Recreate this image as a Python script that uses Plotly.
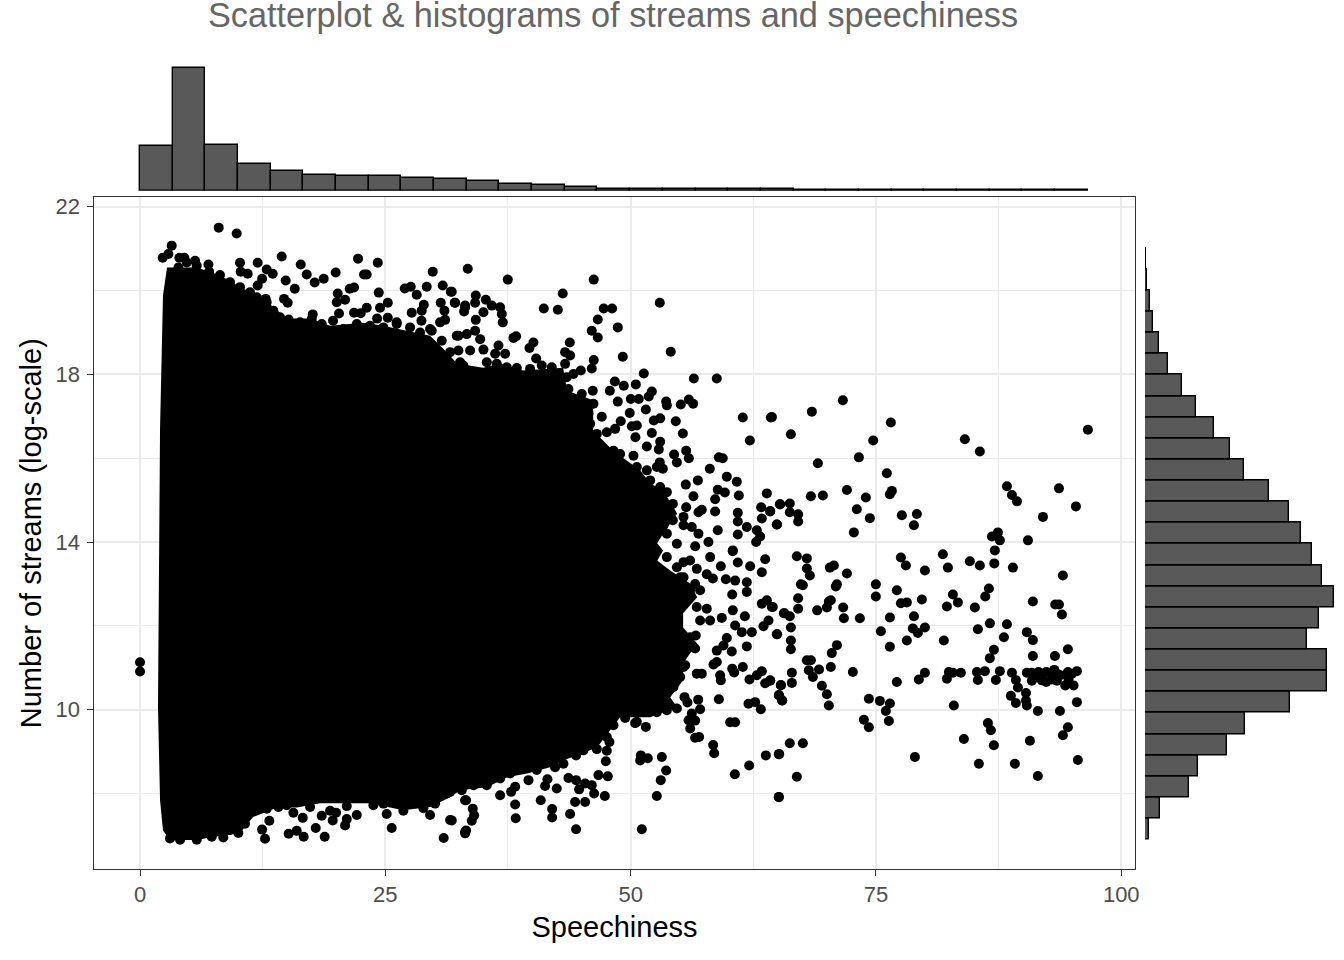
"""Scatterplot with marginal histograms of streams and speechiness."""

import numpy as np
import plotly.graph_objects as go

# Top histogram: speechiness, bar heights
speech_bin_start = 0.0
speech_bin_width = 3.33
speech_counts = [45, 123, 45.7, 27, 20, 16, 15, 15, 13, 12, 10, 7, 6, 4, 2,
                 1.6, 1.2, 1.2, 1.2, 1.2, 1, 1, 1, 0.4, 0.4, 0.4, 1, 1, 1]

# Right histogram: log streams, from the lowest bin up
stream_bin_start = 6.90
stream_bin_width = 0.504
stream_counts = [4, 14.7, 43.7, 52.7, 81.7, 100, 144.7, 182, 182, 162, 174,
                 189.3, 177, 167, 156, 144, 124, 99, 85, 69, 51, 37, 23, 14,
                 8, 5, 2, 0.8, 0.4]

# Outline of the solid black mass of overplotted points
mass_speech = [2.75, 5.81, 8.16, 10.5, 12.54, 14.98, 17.33, 19.37, 22.73, 24.77,
               26.2, 29.56, 31.29, 32.31, 34.96, 36.7, 39.04, 43.12, 43.53, 46.18,
               46.18, 48.22, 50.97, 51.99, 53.31, 54.74, 53.31, 52.7, 53.31, 52.7,
               54.03, 56.07, 56.78, 55.35, 55.35, 56.78, 55.35, 55.35, 54.03, 54.74,
               51.99, 48.93, 47.91, 46.58, 43.12, 41.79, 39.45, 37.41, 35.37, 32.62,
               31.6, 29.56, 26.81, 23.45, 21.1, 18.35, 16.0, 13.97, 11.52, 10.19,
               6.83, 5.81, 3.06, 2.34, 2.04, 1.83, 2.04, 2.24, 2.34, 2.75]
mass_streams = [20.55, 20.55, 20.36, 20.05, 19.81, 19.33, 19.33, 19.16, 19.23, 19.16,
                19.09, 18.92, 18.52, 18.26, 18.16, 18.26, 18.09, 18.16, 17.61, 17.38,
                16.66, 16.18, 15.71, 15.4, 15.23, 14.68, 14.2, 13.97, 13.8, 13.56,
                13.32, 13.01, 12.68, 12.3, 11.96, 11.58, 11.11, 10.7, 10.3, 10.06,
                9.82, 9.82, 9.51, 9.1, 8.79, 8.63, 8.48, 8.39, 8.15, 8.08,
                7.91, 7.68, 7.6, 7.77, 7.77, 7.77, 7.67, 7.67, 7.44, 7.06,
                6.94, 6.89, 6.89, 7.12, 7.84, 10.06, 16.71, 18.76, 19.88, 20.55]

# Separate points, as (speechiness, log streams)
points_top_left = [
    (8.02, 21.5), (9.85, 21.36), (3.23, 21.07), (2.89, 20.87), (2.31, 20.78), (4.01, 20.78),
    (4.52, 20.78), (5.61, 20.71), (6.97, 20.62), (7.04, 20.45), (10.19, 20.66), (11.99, 20.66),
    (14.44, 20.81), (16.38, 20.62), (22.22, 20.76), (24.23, 20.66), (29.83, 20.45), (12.91, 20.5),
    (13.52, 20.4), (10.26, 20.45), (10.97, 20.4), (12.44, 20.28), (11.99, 20.12), (16.99, 20.38),
    (14.85, 20.24), (15.77, 20.04), (17.8, 20.19), (18.72, 20.28), (19.94, 20.43), (22.83, 20.38),
    (23.1, 20.38), (21.37, 20.04), (21.81, 20.07), (20.15, 19.93), (24.33, 19.95), (26.98, 20.05),
    (27.59, 20.09), (28.2, 19.9), (29.22, 20.09), (30.85, 20.12), (31.67, 19.97), (32.11, 19.71),
    (33.13, 19.6), (30.65, 19.71), (28.92, 19.66), (28.71, 19.52), (27.69, 19.47), (31.02, 19.52),
    (28.68, 19.28), (30.58, 19.24), (31.09, 19.3), (25.25, 19.71), (24.46, 19.59), (23.1, 19.59),
    (21.81, 19.47), (22.49, 19.46), (20.9, 19.78), (20.05, 19.72), (20.28, 19.45), (19.67, 19.28),
    (24.16, 19.33), (25.25, 19.35), (26.16, 19.24), (29.56, 19.08), (14.68, 19.8), (15.05, 19.71),
    (17.6, 19.43), (15.15, 19.31), (12.81, 19.8), (12.74, 19.35),
]
points_top_mid = [
    (33.4, 20.52), (37.48, 20.26), (46.24, 20.26), (43.08, 19.93), (52.97, 19.71), (41.15, 19.57),
    (42.58, 19.54), (47.26, 19.57), (48.11, 19.57), (46.65, 19.31), (46.04, 19.04), (46.65, 18.88),
    (48.69, 19.12), (49.2, 18.42), (54.09, 18.54), (51.34, 18.02), (56.44, 17.9), (58.78, 17.9),
    (43.8, 18.76), (46.24, 18.34), (46.04, 18.14), (44.92, 18.09), (48.39, 17.83), (49.3, 17.73),
    (50.53, 17.76), (52.16, 17.59), (51.85, 17.47), (46.14, 17.61), (47.88, 17.61), (48.69, 17.35),
    (50.02, 17.41), (50.83, 17.41), (53.62, 17.35), (53.69, 17.26), (55.11, 17.28), (55.93, 17.4),
    (56.37, 17.3), (51.55, 17.16), (49.91, 17.08), (47.06, 16.99), (61.43, 16.97), (64.29, 16.97),
    (62.15, 16.42), (48.99, 16.88), (53.01, 16.95), (52.36, 16.9), (54.6, 16.88), (50.12, 16.76),
    (50.63, 16.78), (52.16, 16.6), (55.32, 16.59), (50.49, 16.5), (53.01, 16.39), (51.65, 16.28),
    (52.87, 16.21), (55.66, 16.18), (54.43, 16.09), (58.99, 16.02), (59.39, 16.0), (54.71, 15.9),
    (55.93, 16.0), (58.07, 15.75), (52.97, 15.9), (53.28, 15.75), (56.85, 15.47), (59.8, 15.56),
    (60.82, 15.44), (55.62, 15.37), (58.88, 15.25), (59.6, 15.18), (61.03, 15.11), (63.88, 15.16),
    (58.61, 15.02), (56.4, 15.09), (63.3, 14.83), (64.22, 14.73), (65.24, 14.9), (58.61, 14.73),
    (60.92, 14.7), (60.92, 14.49), (63.37, 14.56), (64.9, 14.42), (58.88, 14.28), (61.84, 14.36),
    (60.92, 14.18), (62.86, 14.28), (63.2, 14.13), (62.79, 14.0), (60.41, 13.8), (56.91, 14.71),
    (57.25, 14.77), (55.39, 14.6), (55.66, 14.83), (54.3, 14.91), (54.3, 14.52), (55.39, 14.4),
    (56.23, 14.36), (56.91, 14.2), (57.93, 14.0), (54.71, 13.96), (56.58, 13.9), (53.69, 14.2),
    (31.77, 19.97), (32.08, 19.71), (34.22, 19.88), (34.15, 19.71), (35.24, 19.78), (33.13, 19.64),
    (33.03, 19.5), (35.85, 19.64), (36.7, 19.6), (35.0, 19.48), (36.87, 19.44), (34.22, 19.3),
    (36.97, 19.24), (32.28, 18.92), (34.15, 19.04), (33.3, 18.96), (34.66, 18.84), (38.06, 18.87),
    (38.33, 18.91), (40.09, 18.76), (39.69, 18.63), (36.53, 18.69), (35.0, 18.59), (32.45, 18.57),
    (33.64, 18.57), (36.19, 18.49), (37.21, 18.49), (40.37, 18.38), (43.32, 18.53), (43.83, 18.45),
    (43.32, 18.25), (35.34, 18.29), (32.62, 18.29), (38.4, 18.15), (39.75, 18.13), (40.94, 18.21),
    (41.96, 18.17),
]
points_right_upper = [
    (64.4, 16.98), (68.47, 17.11), (71.63, 17.38), (66.33, 16.57), (76.52, 16.85), (74.72, 16.42),
    (73.26, 16.02), (69.08, 15.88), (84.06, 16.45), (85.59, 16.16), (96.6, 16.68), (76.11, 15.64),
    (88.35, 15.33), (88.86, 15.12), (89.37, 14.97), (93.65, 15.28), (95.38, 14.85), (92.02, 14.6),
    (72.04, 15.24), (68.37, 15.09), (69.59, 15.11), (73.97, 15.06), (76.62, 15.22), (76.42, 15.14),
    (73.05, 14.78), (74.38, 14.57), (77.64, 14.64), (79.17, 14.67), (78.87, 14.4), (72.75, 14.23),
    (65.21, 14.9), (66.22, 14.92), (66.22, 14.71), (67.07, 14.66), (67.07, 14.49), (64.9, 14.42),
    (64.22, 14.74), (87.43, 14.23), (86.82, 14.13), (87.63, 14.04), (90.49, 14.04), (87.12, 13.8),
    (87.06, 13.49), (88.96, 13.39), (94.05, 13.2), (81.82, 13.71), (82.33, 13.39), (84.57, 13.54),
    (85.59, 13.44), (77.54, 13.63), (78.05, 13.44), (79.99, 13.32), (66.94, 13.66), (67.96, 13.61),
    (67.96, 13.37), (68.26, 13.2), (70.3, 13.39), (70.71, 13.44), (72.04, 13.25), (67.35, 12.99),
    (67.55, 12.97), (71.02, 12.99), (70.91, 12.94), (74.99, 12.99), (74.99, 12.7), (77.13, 12.85),
    (67.07, 12.66), (70.2, 12.58), (70.4, 12.61), (70.0, 12.44), (71.66, 12.44), (69.01, 12.37),
    (67.07, 12.41), (64.49, 12.45), (65.61, 12.3), (66.22, 12.23), (71.73, 12.18), (73.36, 12.18),
    (76.42, 12.2), (78.87, 12.23), (66.33, 11.96), (79.68, 12.63), (77.54, 12.54), (78.15, 12.56),
    (82.84, 12.75), (83.35, 12.56), (82.23, 12.46), (85.08, 12.44), (86.14, 12.7), (86.51, 12.89),
    (90.99, 12.58), (93.27, 12.51), (93.65, 12.51), (93.95, 12.27), (88.35, 12.04), (86.61, 12.06),
    (85.39, 11.92), (90.38, 11.85), (88.04, 11.73), (90.99, 11.66), (78.76, 11.94), (79.27, 11.83),
    (79.99, 11.96), (75.5, 11.87), (64.9, 11.8), (66.33, 11.65), (78.15, 11.65), (81.92, 11.65),
]
points_right_lower = [
    (66.33, 11.44), (71.02, 11.54), (70.5, 11.35), (76.42, 11.5), (87.02, 11.43), (86.61, 11.23),
    (90.99, 11.28), (93.24, 11.28), (94.56, 11.44), (67.96, 11.18), (68.37, 11.18), (68.16, 10.94),
    (68.57, 10.78), (69.2, 10.96), (70.4, 11.02), (72.65, 10.9), (66.43, 10.88), (66.43, 10.64),
    (65.31, 10.59), (64.22, 10.69), (69.49, 10.57), (70.0, 10.37), (70.2, 10.1), (65.1, 10.35),
    (65.44, 10.22), (74.28, 10.26), (75.4, 10.21), (76.42, 10.15), (76.01, 9.97), (76.32, 9.73),
    (73.77, 9.76), (74.28, 9.58), (77.13, 10.66), (79.37, 10.72), (79.99, 10.88), (82.23, 10.74),
    (82.43, 10.9), (82.84, 10.88), (83.65, 10.88), (85.29, 10.9), (86.1, 10.92), (85.39, 10.71),
    (87.22, 10.71), (87.63, 10.92), (88.86, 10.88), (89.26, 10.71), (89.47, 10.53), (88.75, 10.33),
    (89.26, 10.16), (90.29, 10.4), (90.29, 10.22), (90.38, 10.1), (91.5, 9.97), (93.75, 9.97),
    (95.48, 10.18), (82.94, 10.1), (86.41, 9.68), (86.71, 9.51), (83.96, 9.3), (87.02, 9.15),
    (94.56, 9.58), (94.05, 9.39), (90.69, 9.26), (78.97, 8.87), (85.49, 8.71), (89.16, 8.71),
    (95.58, 8.8), (91.5, 8.42), (66.22, 9.2), (67.55, 9.2), (65.1, 8.94), (66.94, 8.4), (65.1, 7.92),
    (90.38, 10.88), (90.89, 10.88), (91.57, 10.9), (90.89, 10.69), (91.91, 10.86), (92.35, 10.9),
    (92.76, 10.88), (93.17, 10.95), (91.91, 10.7), (92.35, 10.66), (92.93, 10.72), (93.44, 10.86),
    (93.78, 10.82), (94.56, 10.9), (95.48, 10.92), (94.97, 10.86), (94.29, 10.58), (95.14, 10.58),
    (94.63, 10.72), (93.44, 10.69), (91.4, 10.78),
]
points_bottom_mid = [
    (53.69, 13.64), (60.41, 13.78), (63.71, 13.59), (60.92, 13.51), (62.18, 13.42), (58.1, 13.64),
    (59.19, 13.42), (63.37, 13.28), (57.76, 13.23), (58.38, 13.13), (59.7, 13.11), (60.65, 13.08),
    (61.84, 13.04), (60.35, 12.75), (61.84, 12.81), (57.08, 12.85), (55.39, 13.52), (56.06, 13.56),
    (56.74, 13.36), (55.05, 13.16), (56.57, 13.0), (63.37, 12.53), (63.88, 12.61), (64.39, 12.45),
    (60.41, 12.37), (61.64, 12.23), (65.68, 12.3), (57.76, 12.41), (59.29, 12.19), (58.1, 12.13),
    (57.08, 12.13), (64.05, 12.13), (63.54, 11.99), (60.65, 12.01), (61.33, 11.85), (62.35, 11.85),
    (64.93, 11.8), (59.8, 11.71), (61.84, 11.51), (59.46, 11.53), (58.78, 11.41), (60.31, 11.39),
    (56.64, 11.77), (56.57, 11.46), (58.78, 11.14), (58.44, 11.08), (60.35, 10.98), (61.43, 11.02),
    (60.55, 10.89), (63.37, 10.92), (62.86, 10.82), (62.11, 10.72), (63.71, 10.63), (64.22, 10.7),
    (65.31, 10.58), (59.12, 10.82), (59.19, 10.7), (57.25, 10.86), (56.74, 10.86), (55.56, 11.06),
    (55.49, 10.3), (55.79, 10.17), (56.88, 10.24), (57.08, 10.01), (58.99, 10.25), (62.01, 10.14),
    (62.69, 10.18), (63.27, 10.01), (65.14, 10.34), (65.44, 10.22), (56.23, 9.91), (56.57, 9.74),
    (55.9, 9.75), (56.07, 9.55), (56.57, 9.33), (56.98, 9.35), (60.14, 9.7), (60.65, 9.7),
    (58.41, 9.16), (58.51, 8.96), (63.78, 8.91), (65.14, 8.94), (62.08, 8.67), (60.62, 8.46),
    (65.1, 7.91), (52.67, 7.94), (53.07, 8.32), (53.62, 8.55), (53.18, 8.87), (51.75, 8.84),
    (50.97, 8.79), (51.04, 8.91), (51.14, 7.15), (44.44, 7.15), (43.83, 7.51), (42.0, 7.63),
    (42.0, 7.43), (44.34, 7.8), (45.36, 7.8), (47.37, 7.94), (46.28, 8.0), (46.04, 8.2),
    (45.36, 8.24), (44.75, 8.1), (44.44, 8.32), (43.66, 8.37), (46.72, 8.44), (47.67, 8.41),
    (47.47, 8.77), (47.57, 9.02), (46.55, 9.06), (45.19, 9.03), (44.44, 8.91), (47.84, 9.23),
    (44.0, 9.37), (45.36, 9.43), (43.15, 8.71), (42.3, 8.63), (41.52, 8.34), (41.28, 8.18),
    (42.47, 8.12), (40.84, 7.84), (38.23, 8.16), (37.82, 8.04), (36.7, 7.96), (38.23, 7.74),
    (38.29, 7.41), (34.05, 7.48), (33.91, 7.64), (33.81, 7.35), (33.23, 7.84), (33.23, 7.12),
    (33.13, 7.05), (31.77, 7.36), (39.59, 8.32), (40.43, 8.56), (37.72, 8.48), (36.7, 8.36),
    (35.34, 8.2), (33.98, 8.2), (32.79, 8.08), (31.6, 8.04), (51.55, 9.59), (50.46, 9.68),
    (49.44, 9.8), (48.25, 9.63), (53.69, 9.99), (54.71, 10.03), (52.67, 9.94),
]
points_bottom_left = [
    (0.0, 11.13), (0.0, 10.91), (3.06, 6.93), (7.31, 6.97), (8.49, 6.95), (10.02, 7.06),
    (12.74, 6.92), (12.44, 7.14), (13.18, 7.35), (12.91, 7.64), (15.63, 7.54), (16.58, 7.42),
    (18.52, 7.47), (19.37, 7.59), (19.98, 7.54), (19.64, 7.36), (21.07, 7.7), (22.09, 7.49),
    (21.07, 7.39), (20.9, 7.24), (17.91, 7.18), (15.97, 7.11), (15.15, 7.04), (16.68, 6.97),
    (18.82, 6.97), (25.14, 7.51), (25.65, 7.18), (26.84, 7.59), (29.56, 7.49), (31.6, 7.37),
    (30.95, 6.94), (33.13, 7.08), (33.13, 7.84), (28.88, 7.65), (30.07, 7.76), (23.78, 7.72),
    (14.1, 7.68),
]
# Points sitting right on the rim of the black mass
points_mass_rim = [
    (3.91, 20.55), (4.76, 20.67), (5.78, 20.59), (8.15, 20.37), (9.17, 20.2), (10.19, 20.08),
    (11.21, 19.96), (11.89, 19.84), (12.91, 19.72), (13.59, 19.52), (14.27, 19.36), (14.95, 19.2),
    (16.31, 19.24), (17.5, 19.32), (18.52, 19.2), (19.71, 19.04), (20.73, 19.08), (22.09, 19.2),
    (23.44, 19.16), (24.8, 19.12), (26.16, 19.2), (27.52, 19.12), (28.54, 19.0), (29.73, 19.04),
    (30.75, 18.8), (32.45, 18.92), (31.6, 18.53), (32.96, 18.21),
    (32.62, 18.01), (35.0, 18.01), (36.36, 18.25), (37.38, 18.17), (43.49, 17.93), (44.17, 18.01),
    (43.66, 17.65), (45.02, 17.53), (46.21, 17.3), (45.7, 17.06), (45.87, 16.82), (46.55, 16.58),
    (47.57, 16.62), (48.42, 16.7), (48.25, 16.18), (48.93, 16.1), (50.29, 16.06), (50.63, 15.79),
    (51.65, 15.71), (52.67, 15.79), (51.99, 15.47), (53.01, 15.31), (53.69, 15.19), (52.33, 14.91),
    (53.35, 14.4),
    (52.33, 13.64), (53.35, 13.24), (54.71, 13.4), (55.39, 13.16), (56.06, 12.85), (55.39, 12.61),
    (56.74, 12.45), (54.71, 12.29), (56.06, 11.73), (55.39, 11.02), (55.05, 10.78), (54.37, 10.54),
    (51.65, 9.95), (50.63, 9.71), (47.57, 9.35), (38.91, 8.63), (34.32, 8.24),
    (10.7, 7.28), (9.17, 7.13), (11.72, 7.6), (17.33, 7.68), (19.71, 7.92), (22.77, 7.92),
    (24.8, 7.76), (28.2, 7.88), (31.26, 8.0), (4.08, 6.9), (5.78, 6.9), (14.95, 7.72),
]

x_ticks = [0, 25, 50, 75, 100]
x_minor = [12.5, 37.5, 62.5, 87.5]
y_ticks = [10, 14, 18, 22]
y_minor = [8, 12, 16, 20]

WIDTH = 1344
HEIGHT = 960
MARGIN_L = 94
MARGIN_R = 0
MARGIN_T = 55
MARGIN_B = 90.7
# the drawn plot area comes out about 5px narrower than width minus margins
PLOT_W_LOSS = 5
GRID = "#EBEBEB"
BORDER = "#333333"
TICK_TEXT = "#4D4D4D"
BAR_FILL = "#595959"
FONT = "Liberation Sans"

plot_w = WIDTH - MARGIN_L - MARGIN_R - PLOT_W_LOSS
plot_h = HEIGHT - MARGIN_T - MARGIN_B


def x_dom(left, right):
    return [(left - MARGIN_L) / plot_w, (right - MARGIN_L) / plot_w]


def y_dom(top, bottom):
    return [1 - (bottom - MARGIN_T) / plot_h, 1 - (top - MARGIN_T) / plot_h]


all_points = (points_top_left + points_top_mid + points_right_upper + points_right_lower
              + points_bottom_mid + points_bottom_left + points_mass_rim)
point_speech = [p[0] for p in all_points]
point_streams = [p[1] for p in all_points]

speech_centers = speech_bin_start + speech_bin_width * (np.arange(len(speech_counts)) + 0.5)
stream_centers = stream_bin_start + stream_bin_width * (np.arange(len(stream_counts)) + 0.5)

fig = go.Figure()

# Solid region first, the separate points go on top
fig.add_trace(go.Scatter(
    x=mass_speech, y=mass_streams, mode="lines", fill="toself",
    fillcolor="black", line=dict(color="black", width=0), hoverinfo="skip",
))
fig.add_trace(go.Scatter(
    x=point_speech, y=point_streams, mode="markers",
    marker=dict(color="black", size=10, line=dict(width=0)),
))

fig.add_trace(go.Bar(
    x=speech_centers, y=speech_counts, width=speech_bin_width,
    marker=dict(color=BAR_FILL, line=dict(color="black", width=1.4)),
    xaxis="x2", yaxis="y2",
))
fig.add_trace(go.Bar(
    y=stream_centers, x=stream_counts, width=stream_bin_width, orientation="h",
    marker=dict(color=BAR_FILL, line=dict(color="black", width=1.4)),
    xaxis="x3", yaxis="y3",
))

axis_style = dict(
    showline=True, linecolor=BORDER, linewidth=1.3, mirror=True,
    ticks="outside", ticklen=5.5, tickwidth=1.3, tickcolor=BORDER,
    tickfont=dict(family=FONT, size=22, color=TICK_TEXT),
    showgrid=True, gridcolor=GRID, gridwidth=1.5, zeroline=False,
)

panel_x = x_dom(94, 1135)
panel_y = y_dom(197.5, 869.3)

fig.update_layout(
    width=WIDTH,
    height=HEIGHT,
    margin=dict(l=MARGIN_L, r=MARGIN_R, t=MARGIN_T, b=MARGIN_B),
    paper_bgcolor="white",
    plot_bgcolor="white",
    showlegend=False,
    bargap=0,
    title=dict(
        text="Scatterplot & histograms of streams and speechiness",
        x=613 / WIDTH, xanchor="center", y=1 - 15 / HEIGHT, yanchor="middle",
        font=dict(family=FONT, size=34.3, color="#666666"),
    ),
    xaxis=dict(
        domain=panel_x, range=[-4.69, 101.4], anchor="y",
        tickvals=x_ticks,
        minor=dict(tickvals=x_minor, showgrid=True, gridcolor=GRID, gridwidth=0.8, ticks=""),
        title=dict(text="Speechiness", font=dict(family=FONT, size=29, color="black"), standoff=10),
        **axis_style,
    ),
    yaxis=dict(
        domain=panel_y, range=[6.20, 22.22], anchor="x",
        tickvals=y_ticks, ticklabelstandoff=3,
        minor=dict(tickvals=y_minor, showgrid=True, gridcolor=GRID, gridwidth=0.8, ticks=""),
        title=dict(text="Number of streams (log-scale)",
                   font=dict(family=FONT, size=29, color="black"), standoff=5),
        **axis_style,
    ),
    xaxis2=dict(domain=panel_x, matches="x", anchor="y2", visible=False),
    yaxis2=dict(domain=y_dom(60, 190.7), range=[0, 130.7], anchor="x2", visible=False),
    xaxis3=dict(domain=x_dom(1145, 1339), range=[0, 194], anchor="y3", visible=False),
    yaxis3=dict(domain=panel_y, matches="y", anchor="x3", visible=False),
)

fig.write_html(
    "out.html",
    config=dict(displayModeBar=False),
    post_script="document.body.style.margin='0';document.documentElement.style.overflow='hidden';",
)
